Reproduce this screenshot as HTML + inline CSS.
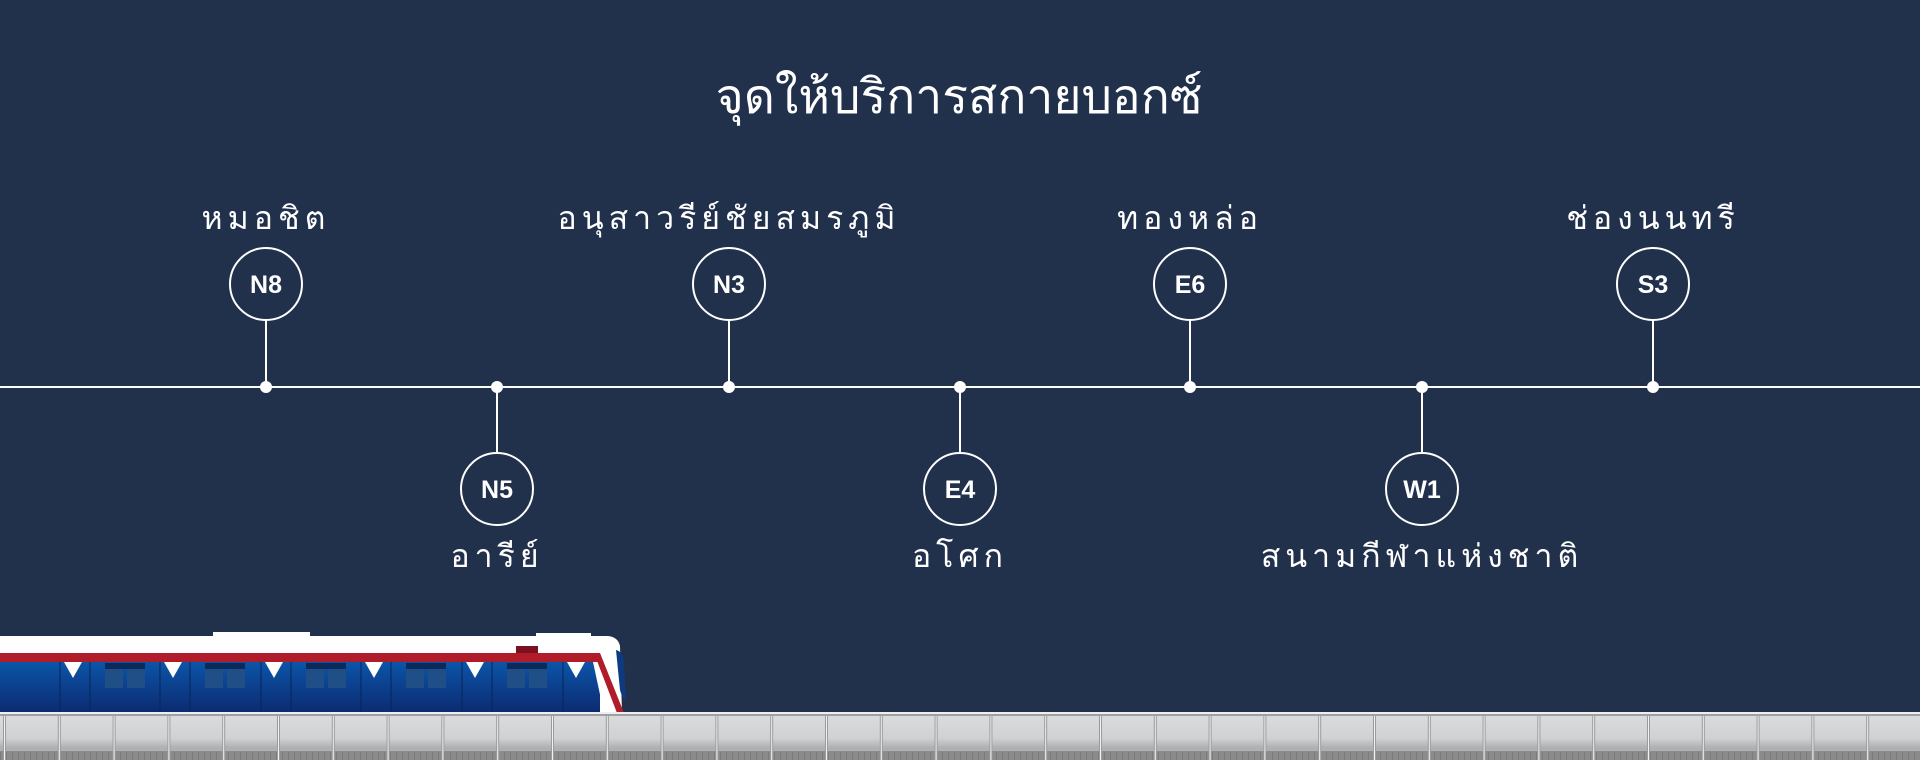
<!DOCTYPE html>
<html><head><meta charset="utf-8"><style>
html,body{margin:0;padding:0;background:#21304b;}
svg{display:block}
.t{font-family:"DejaVu Sans","Liberation Sans",sans-serif;fill:#fff;}
.lab{font-size:32px;letter-spacing:5px;text-anchor:middle;}
.code{font-family:"Liberation Sans","DejaVu Sans",sans-serif;font-size:25px;font-weight:bold;fill:#fff;text-anchor:middle;}
</style></head><body>
<svg width="1920" height="760" viewBox="0 0 1920 760" xmlns="http://www.w3.org/2000/svg">
<defs>
<linearGradient id="blue" x1="0" y1="0" x2="0" y2="1"><stop offset="0" stop-color="#0b55a8"/><stop offset="1" stop-color="#0c2a70"/></linearGradient>
<linearGradient id="plat" x1="0" y1="0" x2="0" y2="1"><stop offset="0" stop-color="#dcdddf"/><stop offset="0.55" stop-color="#d0d1d3"/><stop offset="0.75" stop-color="#aeafb2"/><stop offset="1" stop-color="#b6b7b9"/></linearGradient>
<pattern id="posts" x="3" y="0" width="54.8" height="760" patternUnits="userSpaceOnUse">
<rect x="0" y="716" width="3" height="44" fill="#9a9b9e"/><rect x="1" y="716" width="1" height="44" fill="#f2f2f2"/>
</pattern>
<pattern id="bot" x="0" y="0" width="6" height="760" patternUnits="userSpaceOnUse"><rect x="0" y="752" width="1" height="8" fill="#7c7c7c"/></pattern>
</defs>
<rect width="1920" height="760" fill="#21304b"/>
<text class="t" x="959" y="113" font-size="48" font-weight="500" text-anchor="middle">จุดให้บริการสกายบอกซ์</text>
<line x1="0" y1="387" x2="1920" y2="387" stroke="#fff" stroke-width="2"/>
<g stroke="#fff" stroke-width="2" fill="none">
<line x1="266" y1="320" x2="266" y2="387"/><line x1="729" y1="320" x2="729" y2="387"/><line x1="1190" y1="320" x2="1190" y2="387"/><line x1="1653" y1="320" x2="1653" y2="387"/>
<line x1="497" y1="387" x2="497" y2="453"/><line x1="960" y1="387" x2="960" y2="453"/><line x1="1422" y1="387" x2="1422" y2="453"/>
<circle cx="266" cy="284" r="36"/><circle cx="729" cy="284" r="36"/><circle cx="1190" cy="284" r="36"/><circle cx="1653" cy="284" r="36"/>
<circle cx="497" cy="489" r="36"/><circle cx="960" cy="489" r="36"/><circle cx="1422" cy="489" r="36"/>
</g>
<g fill="#fff">
<circle cx="266" cy="387" r="6"/><circle cx="497" cy="387" r="6"/><circle cx="729" cy="387" r="6"/><circle cx="960" cy="387" r="6"/><circle cx="1190" cy="387" r="6"/><circle cx="1422" cy="387" r="6"/><circle cx="1653" cy="387" r="6"/>
</g>
<text class="code" x="266" y="293">N8</text><text class="code" x="729" y="293">N3</text><text class="code" x="1190" y="293">E6</text><text class="code" x="1653" y="293">S3</text>
<text class="code" x="497" y="498">N5</text><text class="code" x="960" y="498">E4</text><text class="code" x="1422" y="498">W1</text>
<text class="t lab" x="266" y="229">หมอชิต</text>
<text class="t lab" x="729" y="229">อนุสาวรีย์ชัยสมรภูมิ</text>
<text class="t lab" x="1190" y="229">ทองหล่อ</text>
<text class="t lab" x="1653" y="229">ช่องนนทรี</text>
<text class="t lab" x="497" y="567">อารีย์</text>
<text class="t lab" x="960" y="567">อโศก</text>
<text class="t lab" x="1422" y="567">สนามกีฬาแห่งชาติ</text>
<rect x="213" y="632" width="97" height="6" fill="#fff"/>
<rect x="536" y="633" width="55" height="6" fill="#fff"/>
<path d="M0 636 H608 Q618 637 620 646 L622 713 H0 Z" fill="#fff"/>
<rect x="0" y="662" width="600" height="51" fill="url(#blue)"/>
<path d="M593 662 L606 662 L612 713 L604 713 Z" fill="#fff"/>
<rect x="0" y="653" width="598" height="9" fill="#b01c2a"/>
<path d="M594 653 L600 653 L624 713 L617 713 Z" fill="#b01c2a"/>
<path d="M616 650 Q624 652 624 664 L626 700 Q622 698 620 690 Z" fill="#0d3a80"/>
<rect x="516" y="646" width="22" height="7" fill="#7a1020"/>
<g fill="#fff">
<path d="M64 662 H82 L73 678 Z"/><path d="M164 662 H182 L173 678 Z"/><path d="M265 662 H283 L274 678 Z"/><path d="M365 662 H383 L374 678 Z"/><path d="M466 662 H484 L475 678 Z"/><path d="M567 662 H585 L576 678 Z"/>
</g>
<g fill="#1f4f86">
<rect x="105" y="663" width="18" height="25"/><rect x="127" y="663" width="18" height="25"/>
<rect x="205" y="663" width="18" height="25"/><rect x="227" y="663" width="18" height="25"/>
<rect x="306" y="663" width="18" height="25"/><rect x="328" y="663" width="18" height="25"/>
<rect x="406" y="663" width="18" height="25"/><rect x="428" y="663" width="18" height="25"/>
<rect x="507" y="663" width="18" height="25"/><rect x="529" y="663" width="18" height="25"/>
</g>
<g fill="#0b2a5a">
<rect x="105" y="663" width="40" height="6"/><rect x="205" y="663" width="40" height="6"/><rect x="306" y="663" width="40" height="6"/><rect x="406" y="663" width="40" height="6"/><rect x="507" y="663" width="40" height="6"/>
</g>
<g stroke="#0a2455" stroke-width="1">
<line x1="60" y1="662" x2="60" y2="713"/><line x1="90" y1="662" x2="90" y2="713"/><line x1="160" y1="662" x2="160" y2="713"/><line x1="190" y1="662" x2="190" y2="713"/><line x1="261" y1="662" x2="261" y2="713"/><line x1="291" y1="662" x2="291" y2="713"/><line x1="361" y1="662" x2="361" y2="713"/><line x1="391" y1="662" x2="391" y2="713"/><line x1="462" y1="662" x2="462" y2="713"/><line x1="492" y1="662" x2="492" y2="713"/><line x1="563" y1="662" x2="563" y2="713"/>
</g>
<rect x="0" y="712" width="1920" height="48" fill="url(#plat)"/>
<rect x="0" y="712" width="1920" height="2" fill="#eeeeef"/>
<rect x="0" y="714" width="1920" height="2" fill="#9fa0a3"/>
<rect x="0" y="751" width="1920" height="9" fill="#8b8b8b"/>
<rect x="0" y="0" width="1920" height="760" fill="url(#bot)"/>
<rect x="0" y="0" width="1920" height="760" fill="url(#posts)"/>
</svg>
</body></html>
